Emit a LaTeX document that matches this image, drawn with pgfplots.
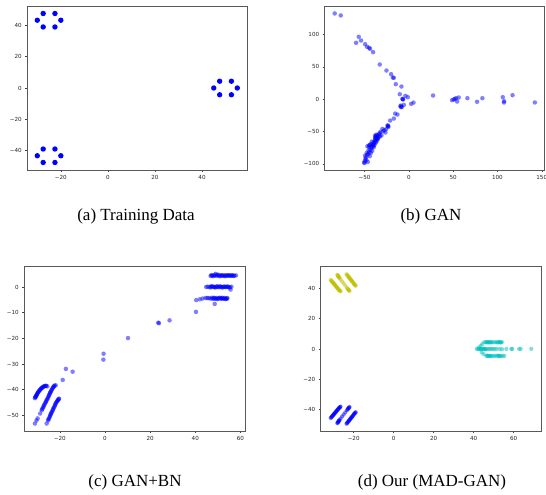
\documentclass[border=0pt]{standalone}
\usepackage{fontspec}
\usepackage{pgfplots}
\pgfplotsset{compat=1.18}
\newfontfamily\tickfont{DejaVu Sans}
\newfontfamily\capfont{Liberation Serif}
\definecolor{mplyellow}{rgb}{0.75,0.75,0}
\definecolor{mplcyan}{rgb}{0,0.75,0.75}
\pgfplotsset{
  panel/.style={
    scale only axis, anchor=south west,
    axis line style={black!65, line width=0.55pt},
    tick pos=left, tick align=outside, major tick length=2pt,
    tick style={black!75, line width=0.5pt},
    ticklabel style={font=\tickfont\fontsize{5.6}{6}\selectfont, text=black!85},
  },
  dots/.style 2 args={only marks, mark=*, mark size=#1, color=#2, mark options={draw=#2, fill=#2, draw opacity=0, fill opacity=0.5, line width=0pt}},
}
\begin{document}
\begin{tikzpicture}
\path[use as bounding box] (0,0) rectangle (546pt,495pt);
% (a)
\begin{axis}[panel, at={(27.3pt,325pt)}, width=220pt, height=164pt,
  xmin=-34.25, xmax=59.25, ymin=-52.4, ymax=52.4,
  xtick={-20,0,20,40}, xticklabels={−20,0,20,40},
  ytick={-40,-20,0,20,40}, yticklabels={−40,−20,0,20,40}]
\addplot[only marks, mark=*, mark size=2.7pt, color=blue, mark options={draw=blue, fill=blue, draw opacity=0, line width=0pt}] coordinates {
(-30,43.3) (-20,43.3) (-27.5,47.6) (-22.5,47.6) (-27.5,39) (-22.5,39)
(-30,-43.3) (-20,-43.3) (-27.5,-47.6) (-22.5,-47.6) (-27.5,-39) (-22.5,-39)
(45,0) (55,0) (47.5,4.33) (52.5,4.33) (47.5,-4.33) (52.5,-4.33)};
\end{axis}
% (b)
\begin{axis}[panel, at={(324.7pt,325pt)}, width=220pt, height=164pt,
  xmin=-94.9, xmax=153.3, ymin=-109.4, ymax=144,
  xtick={-50,0,50,100,150}, xticklabels={−50,0,50,100,150},
  ytick={-100,-50,0,50,100}, yticklabels={−100,−50,0,50,100}]
\addplot[dots={2.25pt}{blue}] coordinates {
(-83.6,132.5) (-76.8,129.4) (-56.5,96.4) (-59.5,87.1) (-53.9,90.7) (-49.3,85) (-47.1,80.9) (-44.8,79.4) (-43.7,77.8) (-40.3,72.7)
(-32.8,53.6) (-25.2,44.3) (-20,38.7) (-16.9,33) (-18.1,33.5) (-14.7,23.2) (-8.3,19.6) (-10.2,7.7) (-3.8,5.2) (-1.1,3.1)
(-6.4,-0.5) (-7.2,0.2) (-6.8,0.4) (-9,-9.8) (-7.9,-11.9) (-5.6,-8.8) (-9.5,-11) (-8.6,-12.4) (2.6,-7.2) (5.3,-5.2) (-15.4,-22.2) (-12.8,-23.7)
(-16.9,-29.9) (-21.1,-33) (-23.7,-41.8) (-23,-42.8) (-24,-40.5) (-23.4,-41.2) (-26.4,-51.5) (-27.5,-47.9) (-29.8,-45.9) (-32,-50.5) (-33.5,-54.1)
(-36.5,-57.2) (-37.7,-59.3) (-35.4,-55.7) (-36.8,-54.8) (-38,-61.3) (-41.8,-65.5) (-40.3,-68.6) (-44.1,-71.6) (-46.7,-72.7) (-38.4,-64.9)
(-36.5,-62.4) (-34.6,-60) (-32.5,-57.5) (-30.8,-56) (-40.7,-72.7) (-42.2,-75.8) (-38.8,-70.6) (-37,-67) (-39.5,-74) (-44.8,-82)
(-42.9,-83) (-47.5,-83) (-45.5,-79) (-49.3,-87.1) (-44.1,-88.1) (-47.8,-94.3) (-50.5,-97.9) (-46.3,-96.9) (-48.5,-90)
(-37.2,-58.2) (-38.2,-56.5) (-36,-59.8) (-35,-61.4) (-37.8,-63.1) (-39.6,-66.4) (-38.6,-67.8) (-41,-70.2) (-39.9,-71.4) (-42.6,-73.9)
(-43.4,-78.3) (-45.9,-84.6) (-47,-86.2) (-48.9,-92.1) (-49.6,-95.5) (-35.9,-64.1) (-34,-57.8) (-33,-52.6) (-28.9,-49.4) (-25.6,-46.3)
(-44.5,-70.8) (-43.2,-69.5) (-45.1,-73.6) (-41.3,-79.7) (-49.9,-98.4)
(27.3,5.7) (48.8,-1.5) (50.6,-0.5) (53.3,1.5) (54.5,-3.6) (56.3,2.6) (52,0.5) (66.1,1.5) (77,-4) (83,1.5)
(106,3.1) (107.3,-5.1) (107.5,-3) (117,6.2) (142.2,-5.1)};
\end{axis}
% (c)
\begin{axis}[panel, at={(24.3pt,64pt)}, width=220.7pt, height=164.3pt,
  xmin=-35.7, xmax=62.0, ymin=-56.1, ymax=7.9,
  xtick={-20,0,20,40,60}, xticklabels={−20,0,20,40,60},
  ytick={-50,-40,-30,-20,-10,0}, yticklabels={−50,−40,−30,−20,−10,0}]
\addplot[dots={2.25pt}{blue}] coordinates {
(46.8,4.3) (47.5,4.5) (48.3,4.4) (49,5.1) (49.8,4.6) (50.5,4.4) (51.3,4.5) (52,4.3) (52.8,4.4) (53.5,4.6) (54.3,4.4) (55,4.5) (55.8,4.3) (56.5,4.5) (57.3,4.4) (58,4.5)
(47.1,4.6) (47.9,4.2) (48.7,4.7) (49.4,4.3) (50.1,4.8) (50.9,4.2) (51.7,4.6) (52.4,4.5) (53.2,4.2) (53.9,4.4) (54.7,4.6) (55.4,4.4) (56.2,4.6) (56.9,4.3)
(44.8,0) (45.5,0.1) (46.3,0) (47,0.2) (47.8,0) (48.5,-0.1) (49.3,0.1) (50,0) (50.8,0.2) (51.5,0) (52.3,-0.1) (53,0.1) (53.8,0) (54.5,0.1) (55.3,-0.1) (56,0.1) (55.6,-1)
(46.7,-0.2) (47.4,0.3) (48.2,0.1) (48.9,-0.2) (49.7,0.3) (50.4,-0.1) (51.2,0.2) (51.9,-0.2) (52.7,0.2) (53.4,-0.1) (54.2,0.2) (54.9,-0.2)
(46,-4.3) (46.7,-4.5) (47.4,-4.2) (48.1,-4.4) (48.8,-4.6) (49.5,-4.3) (50.2,-4.5) (50.9,-4.2) (51.6,-4.4) (52.3,-4.6) (53,-4.3) (53.7,-4.5) (54.2,-4.3)
(47.7,-4.6) (48.4,-4.2) (49.1,-4.5) (49.8,-4.7) (50.6,-4.3) (51.3,-4.6) (52,-4.2) (52.7,-4.5) (53.4,-4.7) (54,-4.6)
(40.4,-5.1) (42,-4.8) (43.2,-4.5) (44.5,-4.3) (45.3,-4.3) (48.6,-6.6)
(40.3,-9.7) (23.6,-13.9) (23.9,-14.1) (28.6,-13) (10.2,-19.9) (-0.6,-26) (-0.7,-28.3) (-14.3,-33) (-17.3,-31.9) (-18.7,-36.2)
(-31,-43.3) (-30.7,-42.8) (-30.4,-42.3) (-30.1,-41.8) (-29.7,-41.2) (-29.3,-40.6) (-28.8,-40.1) (-28.3,-39.6) (-27.8,-39.2) (-27.2,-38.8) (-26.6,-38.6) (-26,-38.5) (-25.5,-38.7)
(-30.9,-43) (-30.5,-42.6) (-30.2,-42) (-29.9,-41.5) (-29.5,-40.9) (-29,-40.4) (-28.5,-39.8) (-28,-39.4) (-27.5,-39) (-26.9,-38.7) (-26.3,-38.5)
(-31,-53.2) (-30.3,-52) (-29.8,-51.2) (-28.7,-49.3) (-28,-48) (-27.5,-47.1) (-27,-46.2) (-26.5,-45.3) (-26,-44.5) (-25.5,-43.6) (-25,-42.7) (-24.6,-41.9) (-24.2,-41.1) (-23.8,-40.4) (-23.3,-39.6) (-22.8,-38.9) (-22.3,-38.4) (-21.8,-38.3)
(-27.8,-47.6) (-27.2,-46.7) (-26.8,-45.8) (-26.2,-44.9) (-25.8,-44) (-25.2,-43.2) (-24.8,-42.3) (-24.4,-41.5) (-24,-40.8) (-23.5,-40) (-23,-39.2) (-22.5,-38.6)
(-25.8,-53.2) (-25.2,-52) (-24.8,-51.2) (-24.3,-50.2) (-23.9,-49.4) (-23.5,-48.6) (-23,-47.7) (-22.6,-46.9) (-22.1,-46) (-21.7,-45.2) (-21.2,-44.5) (-20.7,-43.9) (-20.3,-43.5)
(-25,-51.6) (-24.5,-50.7) (-24.1,-49.8) (-23.7,-49) (-23.2,-48.2) (-22.8,-47.3) (-22.3,-46.5) (-21.9,-45.6) (-21.4,-44.8) (-20.9,-44.2) (-20.5,-43.7)};
\end{axis}
% (d)
\begin{axis}[panel, at={(320.7pt,64pt)}, width=220.6pt, height=164.3pt,
  xmin=-36.5, xmax=73.8, ymin=-54.2, ymax=54.4,
  xtick={-20,0,20,40,60}, xticklabels={−20,0,20,40,60},
  ytick={-40,-20,0,20,40}, yticklabels={−40,−20,0,20,40}]
\addplot[dots={2.1pt}{blue}] coordinates {
(-31.5,-45.6) (-31,-44.8) (-30.5,-44) (-30,-43.3) (-29.6,-42.6) (-29.1,-41.8) (-28.6,-41) (-28.1,-40.2) (-27.6,-39.4) (-27.1,-38.7) (-26.6,-38.1)
(-31.2,-45.2) (-30.7,-44.4) (-30.2,-43.6) (-29.8,-42.9) (-29.3,-42.2) (-28.8,-41.4) (-28.3,-40.6) (-27.8,-39.8) (-27.3,-39) (-26.8,-38.4)
(-28.2,-49) (-27.8,-48.3) (-27.5,-47.6) (-27.1,-47) (-26.6,-46) (-25.8,-44.6) (-25,-43.3) (-24.2,-41.9) (-23.4,-40.5) (-23,-39.8) (-22.5,-39) (-22.1,-38.3)
(-28,-48.7) (-27.6,-48) (-27.3,-47.3) (-22.8,-39.4) (-22.3,-38.7)
(-23.6,-49.4) (-23.1,-48.6) (-22.5,-47.6) (-22.1,-46.9) (-21.6,-46) (-21.1,-45.2) (-20.6,-44.4) (-20,-43.3) (-19.5,-42.5) (-19,-41.8)
(-23.3,-49) (-22.8,-48.1) (-22.3,-47.3) (-21.8,-46.4) (-21.3,-45.6) (-20.8,-44.8) (-20.3,-43.9) (-19.8,-42.9) (-19.2,-42.1)};
\addplot[dots={2.1pt}{mplyellow}] coordinates {
(-31.5,45.6) (-31,44.8) (-30.5,44) (-30,43.3) (-29.6,42.6) (-29.1,41.8) (-28.6,41) (-28.1,40.2) (-27.6,39.4) (-27.1,38.7) (-26.6,38.1)
(-31.2,45.2) (-30.7,44.4) (-30.2,43.6) (-29.8,42.9) (-29.3,42.2) (-28.8,41.4) (-28.3,40.6) (-27.8,39.8) (-27.3,39) (-26.8,38.4)
(-28.2,49) (-27.8,48.3) (-27.5,47.6) (-27.1,47) (-26.6,46) (-25.8,44.6) (-25,43.3) (-24.2,41.9) (-23.4,40.5) (-23,39.8) (-22.5,39) (-22.1,38.3)
(-28,48.7) (-27.6,48) (-27.3,47.3) (-22.8,39.4) (-22.3,38.7)
(-23.6,49.4) (-23.1,48.6) (-22.5,47.6) (-22.1,46.9) (-21.6,46) (-21.1,45.2) (-20.6,44.4) (-20,43.3) (-19.5,42.5) (-19,41.8)
(-23.3,49) (-22.8,48.1) (-22.3,47.3) (-21.8,46.4) (-21.3,45.6) (-20.8,44.8) (-20.3,43.9) (-19.8,42.9) (-19.2,42.1)};
\addplot[dots={2.1pt}{mplcyan}] coordinates {
(45.2,4.4) (46,4.6) (46.8,4.5) (47.5,4.3) (48.3,4.6) (49.1,4.5) (50,4.4) (50.8,4.6) (51.6,4.4) (52.5,4.5) (53.3,4.3) (54.1,4.5)
(46.4,4.3) (47.2,4.7) (47.9,4.4) (48.7,4.3) (52.1,4.3) (52.9,4.7) (53.7,4.4)
(44.2,3.2) (43.4,2) (42.6,0.9)
(41.5,0) (42.3,0.1) (43.1,-0.1) (44,0) (44.8,0.1) (45.6,0) (46.4,-0.1) (47.2,0.1) (48,0) (48.8,0.1) (49.6,0)
(42.7,-0.2) (43.6,0.2) (44.4,-0.1) (45.2,0.2) (46,-0.2)
(50.5,0) (51.5,0.1) (53,0) (54.2,-0.1) (56.3,0) (58.8,0.1) (59.3,0) (62.7,0) (63.5,0.1) (68.8,0.1)
(45,-3.4) (44,-2.3)
(46.3,-4.5) (47.1,-4.7) (47.9,-4.4) (48.7,-4.6) (49.5,-4.5) (50.3,-4.7) (51.1,-4.4) (51.9,-4.6) (52.7,-4.5) (53.6,-4.7) (54.5,-4.5) (55.3,-4.6)
(46.7,-4.3) (47.5,-4.6) (48.3,-4.7) (52.3,-4.4) (53.1,-4.6)};
\end{axis}
\node[anchor=base, font=\capfont\fontsize{17}{20}\selectfont] at (136pt,274pt) {(a) Training Data};
\node[anchor=base, font=\capfont\fontsize{17}{20}\selectfont] at (431pt,274pt) {(b) GAN};
\node[anchor=base, font=\capfont\fontsize{17}{20}\selectfont] at (135pt,8pt) {(c) GAN+BN};
\node[anchor=base, font=\capfont\fontsize{17}{20}\selectfont] at (432pt,8pt) {(d) Our (MAD-GAN)};
\end{tikzpicture}
\end{document}
